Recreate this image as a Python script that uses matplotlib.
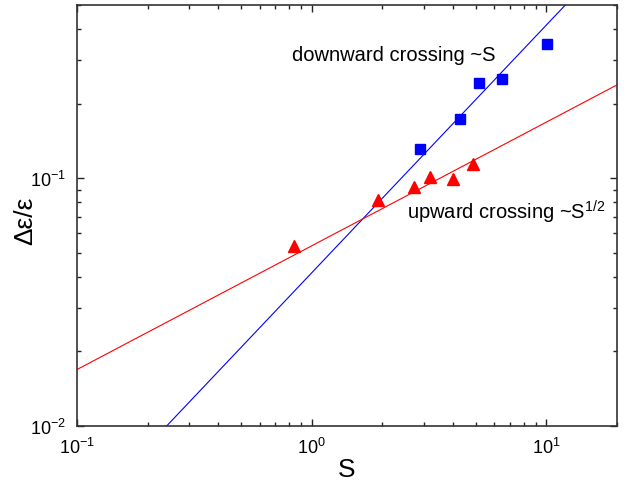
import matplotlib
matplotlib.use("Agg")
import matplotlib.pyplot as plt
from matplotlib.ticker import LogLocator, NullFormatter

plt.rcParams['font.family'] = ['Liberation Sans', 'DejaVu Sans']
plt.rcParams['mathtext.fontset'] = 'custom'
plt.rcParams['mathtext.rm'] = 'Liberation Sans'
plt.rcParams['mathtext.it'] = 'Liberation Sans:italic'
plt.rcParams['axes.unicode_minus'] = False

# data
down_S = [2.90, 4.28, 5.14, 6.45, 10.1]
down_de = [0.131, 0.173, 0.242, 0.251, 0.347]
up_S = [0.838, 1.915, 2.73, 3.19, 4.01, 4.88]
up_de = [0.0532, 0.0815, 0.0923, 0.101, 0.099, 0.1146]
# fit line end points
down_fit_S = [0.2, 20.0]
down_fit_de = [0.0083, 0.83]
up_fit_S = [0.1, 20.0]
up_fit_de = [0.0169, 0.238]

fig = plt.figure(figsize=(6.26, 4.85), dpi=100)
ax = fig.add_axes([0.123, 0.1196, 0.8626, 0.868])

ax.plot(down_fit_S, down_fit_de, color='#0000FF', lw=0.8)
ax.plot(up_fit_S, up_fit_de, color='#FF0000', lw=0.8)
ax.plot(down_S, down_de, 's', color='#0000FF', ms=6.5, mec='#0000FF')
ax.plot(up_S, up_de, '^', color='#FF0000', ms=8.5, mec='#FF0000')

ax.set_xscale('log')
ax.set_yscale('log')
ax.set_xlim(0.1, 20)
ax.set_ylim(0.01, 0.5)

ax.xaxis.set_major_locator(LogLocator(base=10, numticks=10))
ax.xaxis.set_minor_locator(LogLocator(base=10, subs=range(2, 10), numticks=20))
ax.yaxis.set_major_locator(LogLocator(base=10, numticks=10))
ax.yaxis.set_minor_locator(LogLocator(base=10, subs=range(2, 10), numticks=20))
ax.xaxis.set_minor_formatter(NullFormatter())
ax.yaxis.set_minor_formatter(NullFormatter())

ax.tick_params(which='both', direction='in', top=True, right=True, colors='#222222',
               labelcolor='black', labelsize=13, width=1.0)
ax.tick_params(which='major', length=5, pad=8)
ax.tick_params(which='minor', length=3)
for s in ax.spines.values():
    s.set_linewidth(1.2)
    s.set_color('#333333')

ax.set_xlabel('S', fontsize=19, labelpad=0)
ax.set_ylabel('Δε/ε', fontsize=19)
ax.yaxis.set_label_coords(-0.074, 0.49)

ax.text(0.822, 0.316, 'downward crossing ~S', fontsize=14.5, va='center', ha='left')
ax.text(2.54, 0.0736, 'upward crossing ~S$^{1/2}$', fontsize=14.5, va='center', ha='left')

fig.savefig('out.png', dpi=100)
